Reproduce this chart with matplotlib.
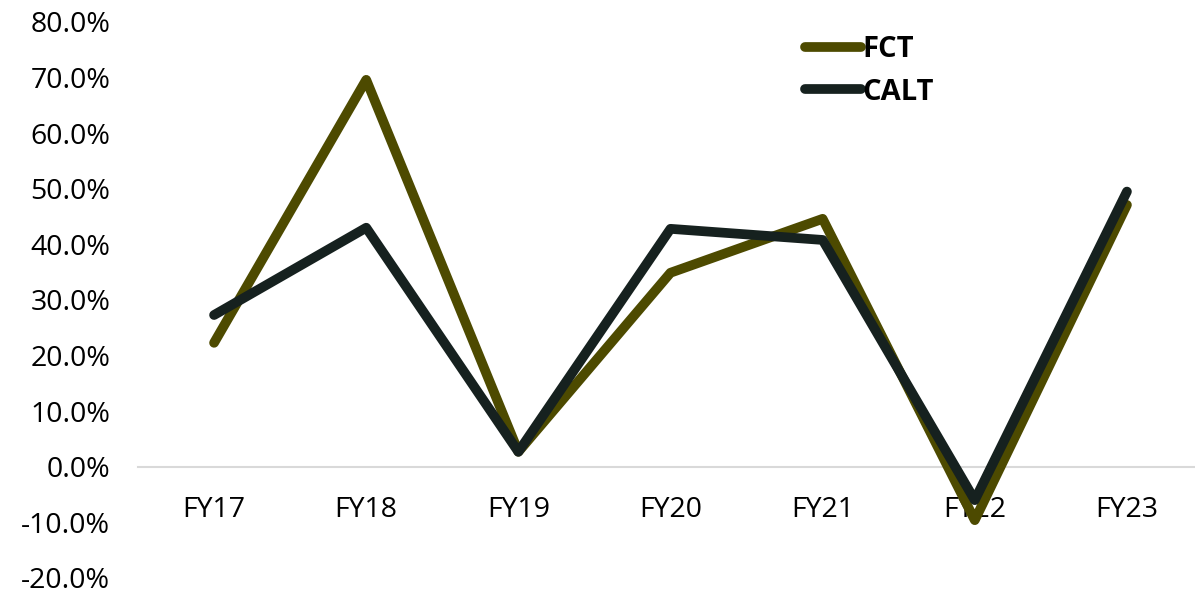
import matplotlib
matplotlib.use("Agg")
import matplotlib.pyplot as plt
from matplotlib.ticker import PercentFormatter

years = ["FY17", "FY18", "FY19", "FY20", "FY21", "FY22", "FY23"]
fct = [22.3, 69.6, 2.7, 34.9, 44.6, -9.6, 47.1]
calt = [27.3, 43.0, 2.7, 42.8, 40.8, -6.0, 49.5]
y_ticks = [-20, -10, 0, 10, 20, 30, 40, 50, 60, 70, 80]

plt.rcParams["font.family"] = ["Open Sans", "DejaVu Sans"]
plt.rcParams["axes.unicode_minus"] = False

fig = plt.figure(figsize=(11.95, 5.95), dpi=100)
ax = fig.add_axes([138 / 1195, 1 - 578 / 595, (1203 - 138) / 1195, (578 - 22) / 595])

x = range(len(years))
ax.plot(x, fct, color="#4d4a00", lw=7, solid_capstyle="round",
        solid_joinstyle="round", label="FCT", zorder=3)
ax.plot(x, calt, color="#16211f", lw=7, solid_capstyle="round",
        solid_joinstyle="round", label="CALT", zorder=4)

ax.set_xlim(-0.5, len(years) - 0.5)
ax.set_ylim(-20, 80)
ax.set_yticks(y_ticks)
ax.yaxis.set_major_formatter(PercentFormatter(decimals=1))
ax.set_xticks(list(x))
ax.set_xticklabels(years)

for side in ("top", "right", "left"):
    ax.spines[side].set_visible(False)
ax.spines["bottom"].set_position(("data", 0))
ax.spines["bottom"].set_color("#d9d9d9")
ax.spines["bottom"].set_linewidth(1.5)

ax.tick_params(axis="both", length=0, labelsize=20.5, colors="black")
ax.tick_params(axis="y", pad=20)
ax.tick_params(axis="x", pad=21)

leg = ax.legend(loc="upper left", bbox_to_anchor=(641 / 1065, 1.024), frameon=False,
                prop={"weight": "bold", "size": 21}, handlelength=1.9,
                handletextpad=0.05, labelspacing=0.47)
for h in leg.legend_handles:
    h.set_solid_capstyle("round")

fig.savefig("out.png", dpi=100)
